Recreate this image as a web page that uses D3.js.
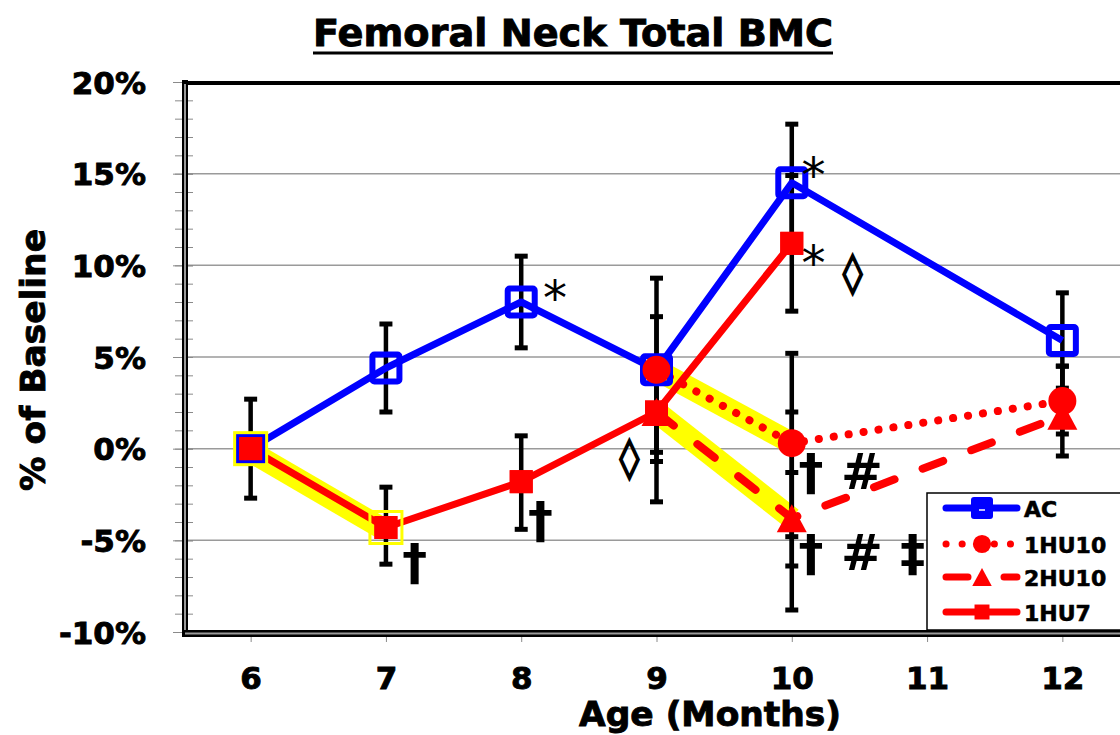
<!DOCTYPE html>
<html>
<head>
<meta charset="utf-8">
<title>Femoral Neck Total BMC</title>
<script src="https://cdn.jsdelivr.net/npm/d3@7"></script>
<style>body{margin:0;background:#fff}</style>
</head>
<body>
<svg width="1120" height="735" id="mainsvg"></svg>
<script>
// months shown on x axis
const months = [6, 7, 8, 9, 10, 11, 12];
const yTicks = [-10, -5, 0, 5, 10, 15, 20];

// series (% of baseline)
const acMonths = [6, 7, 8, 9, 10, 12];
const acValues = [0, 4.4, 8.0, 4.3, 14.5, 5.9];
const hu1x10Months = [9, 10, 12];
const hu1x10Values = [4.3, 0.3, 2.6];
const hu2x10Months = [9, 10, 12];
const hu2x10Values = [2.0, -3.8, 1.8];
const hu1x7Months = [6, 7, 8, 9, 10];
const hu1x7Values = [0, -4.3, -1.8, 2.0, 11.2];

// error bars: month, low, high
const errMonths = [6, 7, 7, 8, 8, 9, 9, 9, 10, 10, 10, 10, 10, 12, 12, 12];
const errLow    = [-2.7, 2.0, -6.3, 5.5, -4.4, -0.7, -2.9, -0.2, 11.3, 7.5, -4.8, -6.4, -8.8, 3.3, 0.8, -0.4];
const errHigh   = [2.7, 6.8, -2.1, 10.5, 0.7, 9.3, 7.2, 4.4, 17.7, 14.9, 5.2, -1.3, 2.0, 8.5, 4.5, 4.5];

// highlighted segments (series, from month, to month)
const hlSeries = ['1HU7', '1HU10', '2HU10'];
const hlFrom = [6, 9, 9];
const hlTo = [7, 10, 10];

// significance marks: text, month, value (baseline anchor)
const noteText = ['*', '*', '*', '\u25CA', '\u25CA', '\u2020', '\u2020', '\u2020 #', '\u2020 # \u2021'];
const noteMonth = [8.25, 10.16, 10.16, 10.45, 8.80, 7.12, 8.05, 10.05, 10.05];
const noteValue = [7.3, 14.0, 9.2, 8.9, -1.2, -7.1, -4.8, -2.2, -6.6];

const svg = d3.select('#mainsvg');
const font = "'DejaVu Sans', 'Liberation Sans', Arial, sans-serif";

const x = d3.scaleLinear().domain([5.5, 12.5]).range([183, 1130]);
const y = d3.scaleLinear().domain([-10, 20]).range([632, 82]);

const zip = (ms, vs) => ms.map((m, i) => ({m: m, v: vs[i]}));
const series = [
  {name: 'AC', pts: zip(acMonths, acValues), color: '#0000ff', width: 7, dash: null, marker: 'osq'},
  {name: '1HU10', pts: zip(hu1x10Months, hu1x10Values), color: '#ff0000', width: 8, dash: '0.1 15', marker: 'circle'},
  {name: '2HU10', pts: zip(hu2x10Months, hu2x10Values), color: '#ff0000', width: 8, dash: '22 30', marker: 'tri'},
  {name: '1HU7', pts: zip(hu1x7Months, hu1x7Values), color: '#ff0000', width: 7, dash: null, marker: 'sq'}
];
const byName = {};
series.forEach(s => byName[s.name] = s);

// heavy text look
const heavy = sel => sel.attr('font-family', font).attr('font-weight', 'bold')
  .attr('fill', '#000').attr('stroke', '#000').attr('stroke-width', 0.9);

// gridlines
svg.append('g').selectAll('line').data(yTicks.filter(d => d > -10 && d < 20)).join('line')
  .attr('x1', 187).attr('x2', 1120)
  .attr('y1', d => y(d)).attr('y2', d => y(d))
  .attr('stroke', '#9a9a9a').attr('stroke-width', 1.5);

// minor ticks
svg.append('g').attr('transform', 'translate(193,0)')
  .call(d3.axisLeft(y).tickValues(d3.range(-10, 21, 1)).tickSize(18).tickFormat(''))
  .call(g => g.select('.domain').remove())
  .selectAll('line').attr('stroke', '#8a8a8a');

// major ticks + labels
const yAxisG = svg.append('g').attr('transform', 'translate(193,0)')
  .call(d3.axisLeft(y).tickValues(yTicks).tickSize(20).tickPadding(27).tickFormat(d => d + '%'));
yAxisG.select('.domain').remove();
yAxisG.selectAll('line').attr('stroke', '#8a8a8a');
yAxisG.selectAll('text').call(heavy).attr('font-size', 31).attr('dy', '0.36em');

// x axis ticks + labels
const xAxisG = svg.append('g').attr('transform', 'translate(0,634)')
  .call(d3.axisBottom(x).tickValues(months).tickSize(8).tickFormat(d3.format('d')));
xAxisG.select('.domain').remove();
xAxisG.selectAll('line').attr('stroke', '#8a8a8a');
xAxisG.selectAll('text').call(heavy).attr('font-size', 31).attr('y', 55).attr('dy', 0);

// frame
svg.append('line').attr('x1', 183).attr('x2', 1120).attr('y1', 83).attr('y2', 83)
  .attr('stroke', '#000').attr('stroke-width', 4);
svg.append('rect').attr('x', 182).attr('y', 80).attr('width', 6).attr('height', 557).attr('fill', '#000');
svg.append('line').attr('x1', 185).attr('x2', 185).attr('y1', 84).attr('y2', 633)
  .attr('stroke', '#9a9a9a').attr('stroke-width', 2);
svg.append('rect').attr('x', 182).attr('y', 630).attr('width', 940).attr('height', 7).attr('fill', '#000');
svg.append('line').attr('x1', 185).attr('x2', 1120).attr('y1', 633.5).attr('y2', 633.5)
  .attr('stroke', '#9a9a9a').attr('stroke-width', 2);

const line = d3.line().x(d => x(d.m)).y(d => y(d.v));

// yellow highlights
hlSeries.forEach((name, i) => {
  const seg = byName[name].pts.filter(p => p.m >= hlFrom[i] && p.m <= hlTo[i]);
  svg.append('path').attr('d', line(seg))
    .attr('transform', name === '1HU7' ? 'translate(0,3)' : null)
    .attr('fill', 'none').attr('stroke', '#ffff00').attr('stroke-width', 22);
});

// error bars
const errG = svg.append('g');
errMonths.forEach((m, i) => {
  const cx = x(m);
  errG.append('line').attr('x1', cx).attr('x2', cx).attr('y1', y(errLow[i])).attr('y2', y(errHigh[i]))
    .attr('stroke', '#000').attr('stroke-width', 4.5);
  [errLow[i], errHigh[i]].forEach(v => {
    errG.append('line').attr('x1', cx - 6.5).attr('x2', cx + 6.5).attr('y1', y(v)).attr('y2', y(v))
      .attr('stroke', '#000').attr('stroke-width', 5);
  });
});

// lines
series.forEach(s => {
  svg.append('path').attr('d', line(s.pts)).attr('fill', 'none')
    .attr('stroke', s.color).attr('stroke-width', s.width)
    .attr('stroke-linecap', s.dash ? 'round' : 'butt')
    .attr('stroke-linejoin', 'round')
    .attr('stroke-dasharray', s.dash);
});

function drawMarker(g, type, cx, cy, k) {
  if (type === 'osq') {
    const a = 27 * k;
    g.append('rect').attr('x', cx - a / 2).attr('y', cy - a / 2).attr('width', a).attr('height', a)
      .attr('fill', 'none').attr('stroke', '#0000ff').attr('stroke-width', 6 * k).attr('rx', 2);
  } else if (type === 'sq') {
    const a = 23 * k;
    g.append('rect').attr('x', cx - a / 2).attr('y', cy - a / 2).attr('width', a).attr('height', a)
      .attr('fill', '#ff0000');
  } else if (type === 'circle') {
    g.append('circle').attr('cx', cx).attr('cy', cy).attr('r', 14 * k).attr('fill', '#ff0000');
  } else if (type === 'tri') {
    const w = 30 * k, h = 28 * k;
    g.append('path').attr('d', `M${cx},${cy - h / 2}L${cx + w / 2},${cy + h / 2}L${cx - w / 2},${cy + h / 2}Z`)
      .attr('fill', '#ff0000');
  }
}

// markers
const markG = svg.append('g');
series.forEach(s => {
  s.pts.forEach(p => drawMarker(markG, s.marker, x(p.m), y(p.v), 1));
  if (s.name === '1HU7') {
    // yellow outline on highlighted start/end markers
    s.pts.filter(p => p.m >= hlFrom[0] && p.m <= hlTo[0]).forEach(p => {
      markG.append('rect').attr('x', x(p.m) - 16).attr('y', y(p.v) - 16).attr('width', 32).attr('height', 32)
        .attr('fill', 'none').attr('stroke', '#ffff00').attr('stroke-width', 3);
    });
    s.pts.forEach(p => drawMarker(markG, s.marker, x(p.m), y(p.v), 1));
  }
});

// significance marks
noteText.forEach((t, i) => {
  const isStar = t === '*';
  const isLoz = t === '\u25CA';
  svg.append('text').attr('x', x(noteMonth[i])).attr('y', y(noteValue[i]))
    .attr('text-anchor', (isStar || isLoz) ? 'middle' : 'start')
    .attr('font-family', font)
    .attr('font-weight', isStar ? 'normal' : 'bold')
    .attr('font-size', isStar ? 48 : (isLoz ? 40 : 50))
    .attr('fill', '#000')
    .attr('stroke', isLoz ? '#000' : null)
    .attr('stroke-width', isLoz ? 1.6 : null)
    .attr('xml:space', 'preserve')
    .text(t);
});

// legend
const lg = svg.append('g');
lg.append('rect').attr('x', 927).attr('y', 493).attr('width', 200).attr('height', 137)
  .attr('fill', '#fff').attr('stroke', '#000').attr('stroke-width', 1.5);
const legendY = [508, 544, 577, 612];
series.forEach((s, i) => {
  const ly = legendY[i];
  lg.append('line').attr('x1', 946).attr('x2', 1017).attr('y1', ly).attr('y2', ly)
    .attr('stroke', s.color).attr('stroke-width', 7)
    .attr('stroke-linecap', 'round')
    .attr('stroke-dasharray', s.dash === '22 30' ? '22 36' : (s.dash ? '0.1 16' : null));
  if (s.marker === 'osq') {
    lg.append('rect').attr('x', 971).attr('y', ly - 11).attr('width', 22).attr('height', 22).attr('rx', 3)
      .attr('fill', '#0000ff');
    lg.append('line').attr('x1', 979).attr('x2', 985).attr('y1', ly + 2).attr('y2', ly + 2)
      .attr('stroke', '#fff').attr('stroke-width', 1.5);
  } else {
    drawMarker(lg, s.marker, 982, ly, 0.65);
  }
  lg.append('text').attr('x', 1024).attr('y', ly + 9).call(heavy).attr('stroke-width', 0.6)
    .attr('font-size', 22).text(s.name);
});

// titles
svg.append('text').attr('x', 573).attr('y', 46).attr('text-anchor', 'middle')
  .call(heavy).attr('font-size', 37)
  .attr('textLength', 520).attr('lengthAdjust', 'spacingAndGlyphs')
  .text('Femoral Neck Total BMC');
svg.append('line').attr('x1', 313).attr('x2', 833).attr('y1', 53).attr('y2', 53)
  .attr('stroke', '#000').attr('stroke-width', 3);

svg.append('text').attr('transform', 'translate(45,360) rotate(-90)').attr('text-anchor', 'middle')
  .call(heavy).attr('font-size', 34)
  .attr('textLength', 262).attr('lengthAdjust', 'spacingAndGlyphs')
  .text('% of Baseline');

svg.append('text').attr('x', 710).attr('y', 726).attr('text-anchor', 'middle')
  .call(heavy).attr('font-size', 33)
  .attr('textLength', 262).attr('lengthAdjust', 'spacingAndGlyphs')
  .text('Age (Months)');
</script>
</body>
</html>
